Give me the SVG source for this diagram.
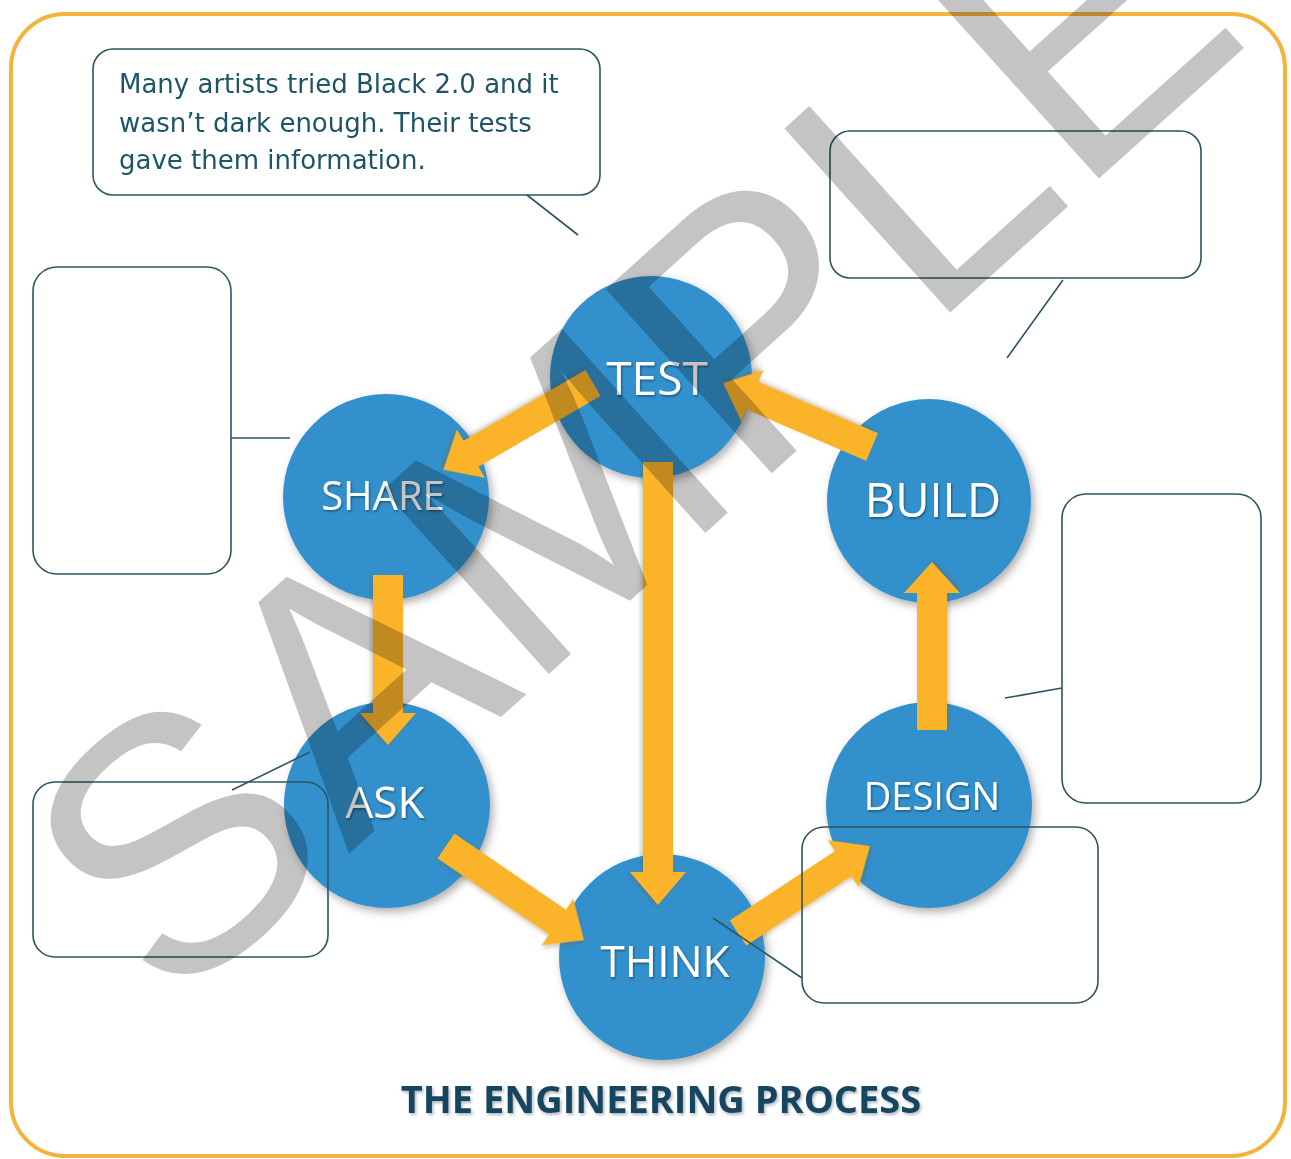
<svg xmlns="http://www.w3.org/2000/svg" width="1291" height="1159" viewBox="0 0 1291 1159">
  <defs>
    <filter id="discShadow" x="-20%" y="-20%" width="140%" height="140%">
      <feDropShadow dx="3" dy="4" stdDeviation="4" flood-color="#4a4a4a" flood-opacity="0.45"/>
    </filter>
    <filter id="labelShadow" x="-10%" y="-20%" width="120%" height="140%">
      <feDropShadow dx="1" dy="1.5" stdDeviation="1" flood-color="#163a58" flood-opacity="0.7"/>
    </filter>
    <filter id="arrowShadow" x="-10%" y="-20%" width="120%" height="140%">
      <feDropShadow dx="2" dy="2" stdDeviation="2" flood-color="#6a5a30" flood-opacity="0.35"/>
    </filter>
    <filter id="titleShadow" x="-5%" y="-30%" width="110%" height="160%">
      <feDropShadow dx="1.5" dy="2" stdDeviation="1.5" flood-color="#7a8a99" flood-opacity="0.6"/>
    </filter>
  </defs>
  <style>
    .disc { fill: #3291cd; filter: url(#discShadow); }
    .label { fill: #ffffff; font-family: "Open Sans", "Noto Sans", sans-serif; text-anchor: middle; filter: url(#labelShadow); }
    .arrow { fill: #fbb32c; filter: url(#arrowShadow); }
    .box { fill: none; stroke: #2c5560; stroke-width: 1.6; }
    .tail { stroke: #2c5560; stroke-width: 1.6; fill: none; }
    .note { fill: #1e5566; font-family: "DejaVu Sans", "Liberation Sans", sans-serif; font-size: 26px; }
    .title { fill: #17445f; font-family: "Open Sans", "Noto Sans", sans-serif; font-weight: 700; font-size: 38px; text-anchor: middle; filter: url(#titleShadow); }
    .mark { fill: #c4c4c4; font-family: "Liberation Sans", Arial, sans-serif; font-size: 360px; mix-blend-mode: multiply; }
  </style>

  <rect width="1291" height="1159" fill="#ffffff"/>

  <!-- outer frame -->
  <rect x="11" y="14" width="1274" height="1142" rx="54" ry="54" fill="none" stroke="#f3b33c" stroke-width="4"/>

  <!-- process stages -->
  <g id="node-test">
    <circle class="disc" cx="651" cy="377" r="101"/>
  </g>
  <g id="node-share">
    <circle class="disc" cx="386" cy="497" r="103"/>
  </g>
  <g id="node-build">
    <circle class="disc" cx="929" cy="501" r="102"/>
  </g>
  <g id="node-ask">
    <circle class="disc" cx="387" cy="805" r="103"/>
  </g>
  <g id="node-think">
    <circle class="disc" cx="662" cy="957" r="103"/>
  </g>
  <g id="node-design">
    <circle class="disc" cx="929" cy="805" r="103"/>
  </g>

  <!-- arrows between stages: local shape points along +x, tail at origin -->
  <g id="connectors">
    <polygon class="arrow" transform="translate(593,383) rotate(149.9)" points="0,-15 141,-15 141,-28 173,0 141,28 141,15 0,15"/>
    <polygon class="arrow" transform="translate(872,447) rotate(203.2)" points="0,-15 130,-15 130,-28 162,0 130,28 130,15 0,15"/>
    <polygon class="arrow" transform="translate(658,462) rotate(90)" points="0,-15 410,-15 410,-28 443,0 410,28 410,15 0,15"/>
    <polygon class="arrow" transform="translate(388,575) rotate(90)" points="0,-15 138,-15 138,-28 170,0 138,28 138,15 0,15"/>
    <polygon class="arrow" transform="translate(932,730) rotate(-90)" points="0,-15 137,-15 137,-28 168,0 137,28 137,15 0,15"/>
    <polygon class="arrow" transform="translate(446,846) rotate(34.3)" points="0,-15 135,-15 135,-28 167,0 135,28 135,15 0,15"/>
    <polygon class="arrow" transform="translate(738,933) rotate(-33.4)" points="0,-15 126,-15 126,-28 158,0 126,28 126,15 0,15"/>
  </g>

  <!-- stage labels -->
  <g id="labels">
    <text class="label" x="657" y="395" font-size="46">TEST</text>
    <text class="label" x="383" y="510" font-size="40">SHARE</text>
    <text class="label" x="933" y="517" font-size="47">BUILD</text>
    <text class="label" x="385" y="818" font-size="44">ASK</text>
    <text class="label" x="665" y="977" font-size="44">THINK</text>
    <text class="label" x="932" y="810" font-size="38">DESIGN</text>
  </g>

  <!-- callouts -->
  <g id="callout-test">
    <rect class="box" x="93" y="49" width="507" height="146" rx="20" ry="20"/>
    <line class="tail" x1="527" y1="195" x2="578" y2="235"/>
    <text class="note" x="119" y="93">Many artists tried Black 2.0 and it</text>
    <text class="note" x="119" y="132">wasn’t dark enough. Their tests</text>
    <text class="note" x="119" y="169">gave them information.</text>
  </g>
  <g id="callout-build">
    <rect class="box" x="830" y="131" width="371" height="147" rx="20" ry="20"/>
    <line class="tail" x1="1063" y1="280" x2="1007" y2="358"/>
  </g>
  <g id="callout-share">
    <rect class="box" x="33" y="267" width="198" height="307" rx="24" ry="24"/>
    <line class="tail" x1="231" y1="438" x2="290" y2="438"/>
  </g>
  <g id="callout-design">
    <rect class="box" x="1062" y="494" width="199" height="309" rx="24" ry="24"/>
    <line class="tail" x1="1062" y1="688" x2="1005" y2="698"/>
  </g>
  <g id="callout-ask">
    <rect class="box" x="33" y="782" width="295" height="175" rx="22" ry="22"/>
    <line class="tail" x1="310" y1="752" x2="232" y2="790"/>
  </g>
  <g id="callout-think">
    <rect class="box" x="802" y="827" width="296" height="176" rx="22" ry="22"/>
    <line class="tail" x1="713" y1="918" x2="802" y2="978"/>
  </g>

  <!-- caption -->
  <text class="title" x="661" y="1113">THE ENGINEERING PROCESS</text>

  <!-- watermark -->
  <text class="mark" transform="translate(170,1015) rotate(-42)" x="0" y="0">SAMPLE</text>
</svg>
